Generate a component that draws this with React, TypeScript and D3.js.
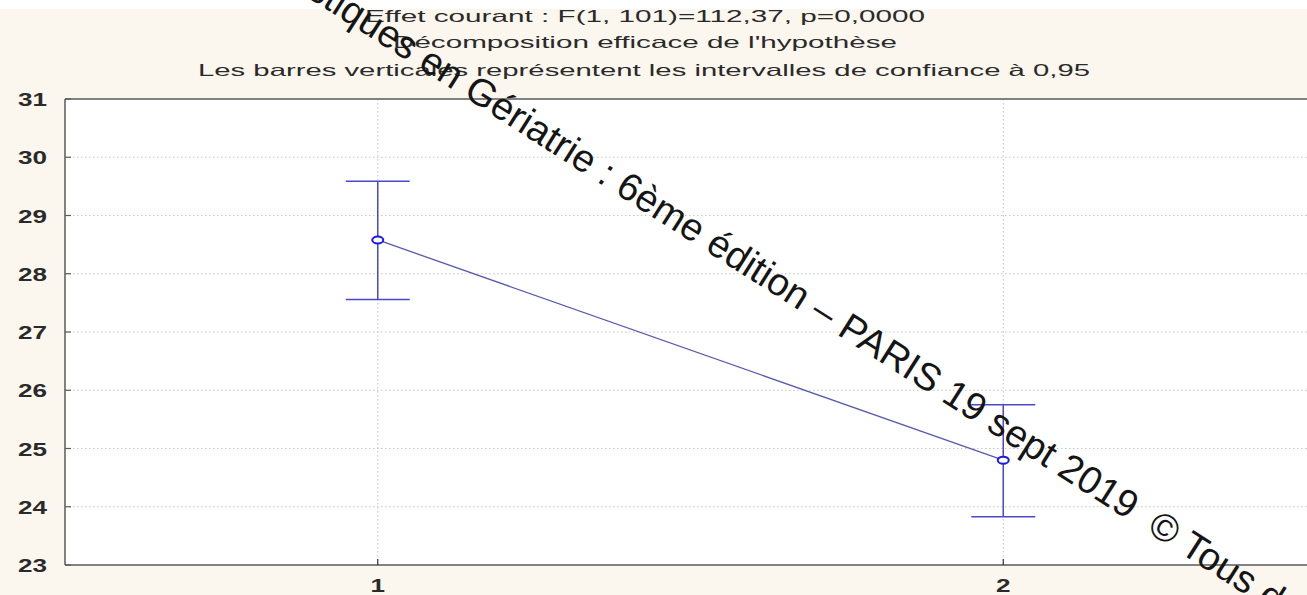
import React from "react";
import * as d3 from "d3";

const categories = [1, 2];
const means = [28.58, 24.8];
const ciLow = [27.56, 23.83];
const ciHigh = [29.59, 25.75];
const yTicks = [23, 24, 25, 26, 27, 28, 29, 30, 31];
const titleLines = [
  "Effet courant : F(1, 101)=112,37, p=0,0000",
  "Décomposition efficace de l'hypothèse",
  "Les barres verticales représentent les intervalles de confiance à 0,95",
];
const watermarkA = "Statistiques en Gériatrie : 6ème édition –";
const watermarkB = "PARIS 19 sept 2019  © Tous droits réservés";

const W = 1307;
const H = 595;
const left = 65;
const top = 99;
const bottom = 565;

export default function App() {
  const x = d3.scaleLinear().domain([0.5, 2.5]).range([left, left + 2 * 625.5]);
  const y = d3.scaleLinear().domain([23, 31]).range([bottom, top]);
  const pts = categories.map((c, i) => [x(c), y(means[i])] as [number, number]);
  const line = d3.line()(pts) || "";
  const font = "'Liberation Sans', Arial, sans-serif";
  const titleLayout = [
    { cx: 645, len: 560, base: 22 },
    { cx: 645, len: 504, base: 48 },
    { cx: 644, len: 892, base: 76 },
  ];
  return (
    <svg width={W} height={H} style={{ position: "absolute", left: 0, top: 0 }} fontFamily={font}>
      <rect x={0} y={0} width={W} height={H} fill="#ffffff" />
      <rect x={0} y={9} width={W} height={H - 9} fill="#fbf7ee" />
      <rect x={left} y={top} width={W} height={bottom - top} fill="#ffffff" />
      {/* grid */}
      {yTicks.slice(1, -1).map((t) => (
        <line key={"gy" + t} x1={left} x2={W} y1={y(t)} y2={y(t)} stroke="#c4c4c4" strokeWidth={1} strokeDasharray="1.5,2.5" />
      ))}
      {categories.map((c) => (
        <line key={"gx" + c} x1={x(c)} x2={x(c)} y1={top} y2={bottom} stroke="#c4c4c4" strokeWidth={1} strokeDasharray="1.5,2.5" />
      ))}
      {/* frame */}
      <line x1={left} x2={W} y1={top} y2={top} stroke="#5a5a5a" strokeWidth={1.5} />
      <line x1={left} x2={W} y1={bottom} y2={bottom} stroke="#5a5a5a" strokeWidth={1.5} />
      <line x1={left} x2={left} y1={top} y2={bottom} stroke="#5a5a5a" strokeWidth={1.5} />
      {yTicks.map((t) => (
        <line key={"ty" + t} x1={left} x2={left + 6} y1={y(t)} y2={y(t)} stroke="#5a5a5a" strokeWidth={1.2} />
      ))}
      {categories.map((c) => (
        <line key={"tx" + c} x1={x(c)} x2={x(c)} y1={bottom} y2={bottom - 6} stroke="#333" strokeWidth={1.2} />
      ))}
      {/* tick labels */}
      {yTicks.map((t) => (
        <text key={"ly" + t} transform={`translate(47,${y(t) + 7}) scale(1.45,1)`} textAnchor="end" fontSize={18} fontWeight="bold" fill="#2a2a2a">
          {t}
        </text>
      ))}
      {categories.map((c) => (
        <text key={"lx" + c} transform={`translate(${x(c)},592) scale(1.45,1)`} textAnchor="middle" fontSize={18} fontWeight="bold" fill="#2a2a2a">
          {c}
        </text>
      ))}
      {/* titles */}
      {titleLines.map((s, i) => (
        <text
          key={"t" + i}
          x={titleLayout[i].cx - titleLayout[i].len / 2}
          y={titleLayout[i].base}
          fontSize={16.5}
          fill="#2a2a2a"
          textLength={titleLayout[i].len}
          lengthAdjust="spacingAndGlyphs"
        >
          {s}
        </text>
      ))}
      {/* series */}
      <path d={line} fill="none" stroke="#5858b0" strokeWidth={1.3} />
      {categories.map((c, i) => (
        <g key={"eb" + c} stroke="#4a4ac8" strokeWidth={1.5}>
          <line x1={x(c)} x2={x(c)} y1={y(ciLow[i])} y2={y(ciHigh[i])} />
          <line x1={x(c) - 32} x2={x(c) + 32} y1={y(ciHigh[i])} y2={y(ciHigh[i])} />
          <line x1={x(c) - 32} x2={x(c) + 32} y1={y(ciLow[i])} y2={y(ciLow[i])} />
        </g>
      ))}
      {categories.map((c, i) => (
        <ellipse key={"m" + c} cx={x(c)} cy={y(means[i])} rx={5.5} ry={3.5} fill="#ffffff" stroke="#1a1ae0" strokeWidth={2} />
      ))}
      {/* watermark */}
      <g transform="translate(836,334) rotate(32.5)" fontSize={38.5} fill="#151515">
        <text x={-11} y={0} textAnchor="end">{watermarkA}</text>
        <text x={0} y={0} textAnchor="start" style={{ whiteSpace: "pre" }}>{watermarkB}</text>
      </g>
    </svg>
  );
}
